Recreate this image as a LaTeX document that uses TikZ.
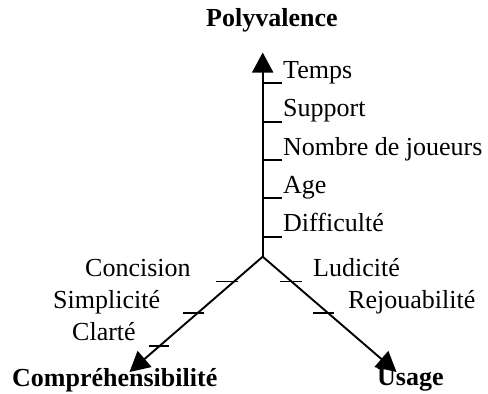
\documentclass[tikz,border=0pt]{standalone}
\usepackage{fontspec}
\setmainfont{Liberation Serif}
\usetikzlibrary{arrows.meta,calc}
\begin{document}
\begin{tikzpicture}[x=1pt,y=-1pt,
  axisline/.style={line width=1.9pt,-{Triangle[length=20pt,width=21pt]}},
  tickline/.style={line width=1.8pt},
  lbl/.style={inner sep=0pt,anchor=base west,font=\fontsize{26}{30}\selectfont},
  title/.style={lbl,font=\fontsize{26}{30}\selectfont\bfseries}]
\useasboundingbox (0,0) rectangle (488,394);
% axes
\coordinate (O) at (262.7,256.7);
\coordinate (P) at (262.7,52.5);
\coordinate (C) at (129.5,372);
\coordinate (U) at (396.5,372);
\draw[axisline] (O) -- (P);
\draw[axisline] (O) -- (C);
\draw[axisline] (O) -- (U);
% axis titles
\node[title] (tp) at (206,26.7) {Polyvalence};
\node[title] (tc) at (12,386.7) {Compréhensibilité};
\node[title] (tu) at (377,385) {Usage};
% criteria on the vertical axis
\foreach \name/\txt/\yb in {v1/Temps/78.3, v2/Support/116.7, v3/Nombre de joueurs/155,
                            v4/Age/193.2, v5/Difficulté/231.7}{
  \node[lbl] (\name) at (283,\yb) {\txt};
  \coordinate (\name t) at (262.7,\yb+5);
  \draw[tickline] (\name t) -- ++(19.5,0);
}
% criteria on the left axis
\node[lbl] (c1) at (85,276.7) {Concision};
\node[lbl] (c2) at (53,308) {Simplicité};
\node[lbl] (c3) at (72,340) {Clarté};
\coordinate (c1t) at ($(O)!0.215!(C)$);
\coordinate (c2t) at ($(O)!0.49!(C)$);
\coordinate (c3t) at ($(O)!0.775!(C)$);
\draw[tickline] ($(c1t)+(-18,0)$) -- ($(c1t)+(4,0)$);
\draw[tickline] ($(c2t)+(-14,0)$) -- ($(c2t)+(7,0)$);
\draw[tickline] ($(c3t)+(-10,0)$) -- ($(c3t)+(10,0)$);
% criteria on the right axis
\node[lbl] (u1) at (313,276) {Ludicité};
\node[lbl] (u2) at (348,308) {Rejouabilité};
\coordinate (u1t) at ($(O)!0.215!(U)$);
\coordinate (u2t) at ($(O)!0.49!(U)$);
\draw[tickline] ($(u1t)+(-11,0)$) -- ($(u1t)+(11,0)$);
\draw[tickline] ($(u2t)+(-15,0)$) -- ($(u2t)+(6,0)$);
\end{tikzpicture}
\end{document}
